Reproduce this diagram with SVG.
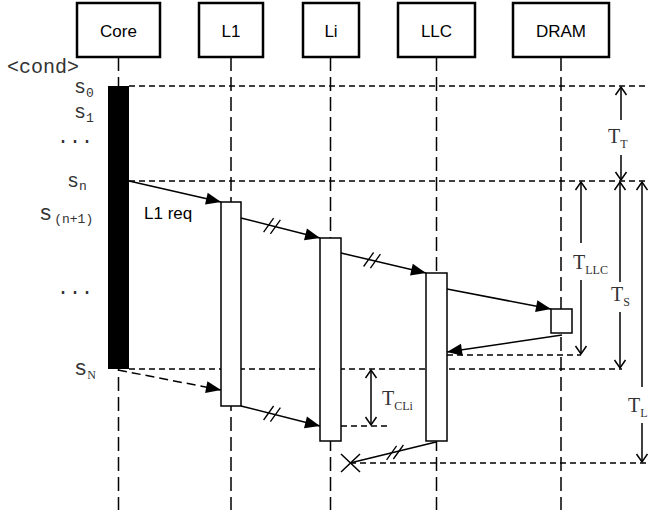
<svg xmlns="http://www.w3.org/2000/svg" width="648" height="510" viewBox="0 0 648 510">
<defs>
<style>
.hdr{fill:#fff;stroke:#000;stroke-width:2.5}
.htxt{font-family:"Liberation Sans",Arial,sans-serif;font-size:17px;fill:#000;text-anchor:middle}
.life{stroke:#000;stroke-width:1.5;stroke-dasharray:14 6;fill:none}
.hd{stroke:#000;stroke-width:1.3;stroke-dasharray:6 4;fill:none}
.act{fill:#fff;stroke:#000;stroke-width:1.5}
.msg{stroke:#000;stroke-width:1.5;fill:none}
.dmsg{stroke:#000;stroke-width:1.5;fill:none;stroke-dasharray:9 5}
.mark{stroke:#000;stroke-width:1.3;fill:none}
.dim{stroke:#000;stroke-width:1.5;fill:none}
.mono{font-family:"Liberation Mono","Courier New",monospace;font-size:20px;fill:#333}
.msub{font-size:13px}
.ser{font-family:"Liberation Serif","Times New Roman",serif;font-size:20px;fill:#333}
.ssub{font-size:12px}
.lbl{font-family:"Liberation Sans",Arial,sans-serif;font-size:17px;fill:#000}
</style>
<marker id="fa" viewBox="-16 -7 16 14" refX="0" refY="0" markerWidth="16" markerHeight="14" markerUnits="userSpaceOnUse" orient="auto">
<path d="M0,0 L-15,-6 L-15,6 Z" fill="#000"/>
</marker>
<marker id="oa" viewBox="-10 -7 12 14" refX="0" refY="0" markerWidth="12" markerHeight="14" markerUnits="userSpaceOnUse" orient="auto-start-reverse">
<path d="M-8,-5.5 L0,0 L-8,5.5" fill="none" stroke="#000" stroke-width="1.5"/>
</marker>
</defs>

<g id="lifelines">
<line class="life" x1="118.5" y1="57" x2="118.5" y2="510"/>
<line class="life" x1="231" y1="57" x2="231" y2="510"/>
<line class="life" x1="330.5" y1="57" x2="330.5" y2="510"/>
<line class="life" x1="436.5" y1="57" x2="436.5" y2="510"/>
<line class="life" x1="561" y1="57" x2="561" y2="510"/>
</g>

<g id="guides">
<line class="hd" x1="129" y1="86" x2="648" y2="86"/>
<line class="hd" x1="129" y1="181" x2="648" y2="181"/>
<line class="hd" x1="129" y1="369" x2="622" y2="369"/>
<line class="hd" x1="447" y1="355" x2="581" y2="355"/>
<line class="hd" x1="341" y1="426" x2="390" y2="426"/>
<line class="hd" x1="350" y1="463" x2="648" y2="463"/>
</g>

<g id="node-core">
<rect class="hdr" x="77" y="3" width="83" height="54"/>
<text class="htxt" x="118.5" y="37">Core</text>
<rect x="108" y="86" width="21" height="283" fill="#000"/>
</g>
<g id="node-l1">
<rect class="hdr" x="199" y="3" width="64" height="54"/>
<text class="htxt" x="231" y="37">L1</text>
<rect class="act" x="221" y="202" width="20" height="204"/>
</g>
<g id="node-li">
<rect class="hdr" x="303" y="3" width="56" height="54"/>
<text class="htxt" x="331" y="37">Li</text>
<rect class="act" x="320" y="238" width="21" height="203"/>
</g>
<g id="node-llc">
<rect class="hdr" x="398" y="3" width="77" height="54"/>
<text class="htxt" x="436.5" y="37">LLC</text>
<rect class="act" x="426" y="273" width="21" height="168"/>
</g>
<g id="node-dram">
<rect class="hdr" x="513" y="3" width="96" height="54"/>
<text class="htxt" x="561" y="37">DRAM</text>
<rect class="act" x="551" y="309" width="21" height="24"/>
</g>

<g id="connectors">
<line class="msg" x1="129" y1="181" x2="221" y2="202" marker-end="url(#fa)"/>
<line class="msg" x1="241" y1="218" x2="320" y2="238" marker-end="url(#fa)"/>
<line class="msg" x1="341" y1="253" x2="426" y2="273" marker-end="url(#fa)"/>
<line class="msg" x1="447" y1="289" x2="551" y2="309" marker-end="url(#fa)"/>
<line class="msg" x1="562" y1="335" x2="447" y2="352" marker-end="url(#fa)"/>
<line class="dmsg" x1="118" y1="370" x2="221" y2="390" marker-end="url(#fa)"/>
<line class="msg" x1="241" y1="406" x2="320" y2="426" marker-end="url(#fa)"/>
<line class="msg" x1="436" y1="442" x2="350" y2="463"/>
<path class="mark" d="M263.6,232.1 L273.6,218.1 M270.4,233.9 L280.4,219.9"/>
<path class="mark" d="M363.6,266.5 L373.6,252.5 M370.4,268.1 L380.4,254.1"/>
<path class="mark" d="M263.6,420 L273.6,406 M270.4,421.7 L280.4,407.7"/>
<path class="mark" d="M386.6,459.8 L396.6,445.8 M393.4,459 L403.4,445"/>
<path class="msg" d="M341,454 L360,472 M341,472 L360,454"/>
</g>

<g id="dimensions">
<line class="dim" x1="621" y1="87" x2="621" y2="120" marker-start="url(#oa)"/>
<line class="dim" x1="621" y1="155" x2="621" y2="180" marker-end="url(#oa)"/>
<line class="dim" x1="581" y1="182" x2="581" y2="243" marker-start="url(#oa)"/>
<line class="dim" x1="581" y1="280" x2="581" y2="354" marker-end="url(#oa)"/>
<line class="dim" x1="620" y1="182" x2="620" y2="282" marker-start="url(#oa)"/>
<line class="dim" x1="620" y1="312" x2="620" y2="368" marker-end="url(#oa)"/>
<line class="dim" x1="642" y1="182" x2="642" y2="387" marker-start="url(#oa)"/>
<line class="dim" x1="642" y1="423" x2="642" y2="462" marker-end="url(#oa)"/>
<line class="dim" x1="371" y1="370" x2="371" y2="425" marker-start="url(#oa)" marker-end="url(#oa)"/>
<text class="ser" x="608" y="143">T<tspan class="ssub" dy="5">T</tspan></text>
<text class="ser" x="573" y="269">T<tspan class="ssub" dy="5">LLC</tspan></text>
<text class="ser" x="611" y="301">T<tspan class="ssub" dy="5">S</tspan></text>
<text class="ser" x="628" y="412">T<tspan class="ssub" dy="5">L</tspan></text>
<text class="ser" x="382" y="405">T<tspan class="ssub" dy="5">CLi</tspan></text>
</g>

<g id="labels">
<text class="mono" x="7" y="73">&lt;cond&gt;</text>
<text class="mono" x="74" y="93">s<tspan class="msub" dy="4">0</tspan></text>
<text class="mono" x="74" y="118">s<tspan class="msub" dy="4">1</tspan></text>
<text class="mono" x="57" y="143">...</text>
<text class="mono" x="67" y="187">s<tspan class="msub" dy="3">n</tspan></text>
<text class="mono" x="39" y="220" style="font-size:22px">s<tspan class="msub" dy="3" dx="2">(n+1)</tspan></text>
<text class="mono" x="57" y="294">...</text>
<text class="mono" x="74" y="375" style="font-size:22px">s<tspan dy="4" style="font-family:'Liberation Serif','Times New Roman',serif;font-size:12px">N</tspan></text>
<text class="lbl" x="144" y="219">L1 req</text>
</g>
</svg>
